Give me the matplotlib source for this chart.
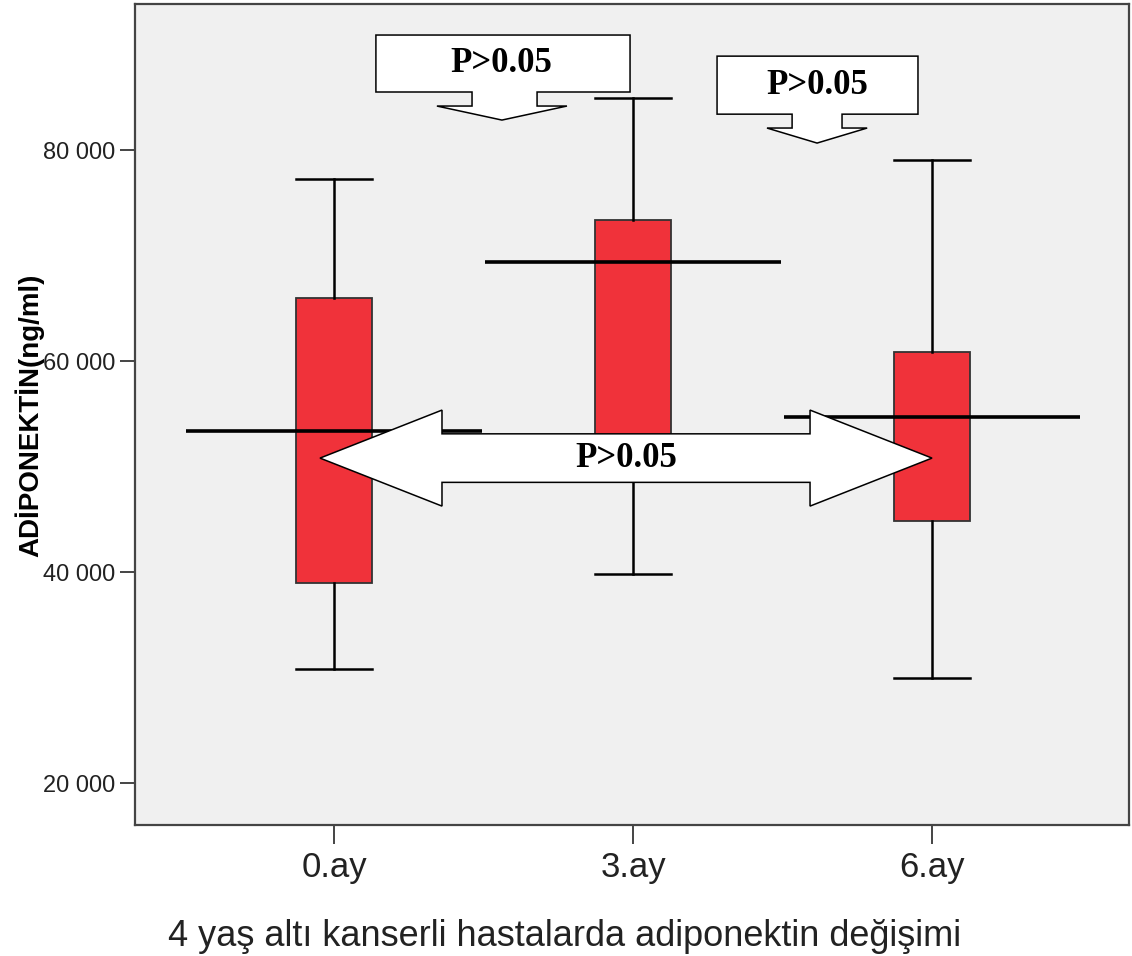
import matplotlib
matplotlib.use("Agg")
import matplotlib.pyplot as plt
from matplotlib.patches import Polygon
from matplotlib.ticker import FuncFormatter

# box plot values (ng/ml)
groups = ['0.ay', '3.ay', '6.ay']
q1 = [39000, 50500, 44800]
q3 = [66000, 73400, 60900]
med = [53400, 69400, 54700]
whislo = [30800, 39800, 30000]
whishi = [77300, 84900, 79100]

yticks = [20000, 40000, 60000, 80000]
p_label = 'P>0.05'

box_color = '#f0323a'
bg_color = '#f0f0f0'
frame_color = '#444444'


def double_arrow(x0, x1, yc, shaft_h, head_h, head_len):
    # left/right pointing block arrow in data coords
    return [(x0, yc), (x0 + head_len, yc + head_h), (x0 + head_len, yc + shaft_h),
            (x1 - head_len, yc + shaft_h), (x1 - head_len, yc + head_h), (x1, yc),
            (x1 - head_len, yc - head_h), (x1 - head_len, yc - shaft_h),
            (x0 + head_len, yc - shaft_h), (x0 + head_len, yc - head_h)]


def down_callout(xl, xr, ytop, ybot, sl, sr, hl, hr, ybase, ytip):
    # rectangle with a down arrow hanging from its bottom edge
    xc = (hl + hr) / 2
    return [(xl, ytop), (xr, ytop), (xr, ybot), (sr, ybot), (sr, ybase), (hr, ybase),
            (xc, ytip), (hl, ybase), (sl, ybase), (sl, ybot), (xl, ybot)]


fig = plt.figure(figsize=(11.32, 9.56), dpi=100)
ax = fig.add_axes([0.1193, 0.1370, 0.8781, 0.8588])
ax.set_facecolor(bg_color)

pos = list(range(len(groups)))
stats = []
for i in pos:
    stats.append({'med': med[i], 'q1': q1[i], 'q3': q3[i],
                  'whislo': whislo[i], 'whishi': whishi[i], 'fliers': []})

ax.bxp(stats, positions=pos, widths=0.257, capwidths=0.257, patch_artist=True,
       showfliers=False,
       boxprops=dict(facecolor=box_color, edgecolor='#333333', linewidth=1.3),
       whiskerprops=dict(color='black', linewidth=1.8),
       capprops=dict(color='black', linewidth=1.8),
       medianprops=dict(linewidth=0))

# wide median lines across each category
ax.hlines(med, [p - 0.495 for p in pos], [p + 0.495 for p in pos],
          colors='black', linewidth=2.6, zorder=3)

# annotation arrows
ptext = dict(ha='center', va='center', fontsize=25, fontweight='bold',
             family='Liberation Serif', zorder=6)

arr = Polygon(double_arrow(-0.047, 2.0, 50800, 2300, 4550, 0.408),
              closed=True, facecolor='white', edgecolor='black', linewidth=1.1, zorder=5)
ax.add_patch(arr)
ax.text(0.977, 50800, p_label, **ptext)

c1 = Polygon(down_callout(0.140, 0.990, 90900, 85500, 0.4615, 0.679,
                          0.344, 0.779, 84170, 82840),
             closed=True, facecolor='white', edgecolor='black', linewidth=1.1, zorder=5)
ax.add_patch(c1)
ax.text(0.56, 88200, p_label, **ptext)

c2 = Polygon(down_callout(1.281, 1.953, 88900, 83400, 1.532, 1.699,
                          1.448, 1.783, 82085, 80660),
             closed=True, facecolor='white', edgecolor='black', linewidth=1.1, zorder=5)
ax.add_patch(c2)
ax.text(1.615, 86150, p_label, **ptext)

ax.set_xlim(-0.6656, 2.659)
ax.set_ylim(16020, 93840)
ax.set_xticks(pos)
ax.set_xticklabels(groups)
ax.set_yticks(yticks)
ax.yaxis.set_major_formatter(FuncFormatter(lambda v, p: f'{int(v):,}'.replace(',', ' ')))

for s in ax.spines.values():
    s.set_color(frame_color)
    s.set_linewidth(1.6)

ax.tick_params(axis='y', length=11, width=1.4, color=frame_color, labelsize=17,
               labelcolor='#222222', pad=3)
ax.tick_params(axis='x', length=14, width=1.4, color=frame_color, labelsize=25,
               labelcolor='#222222', pad=5)
for lab in ax.get_xticklabels() + ax.get_yticklabels():
    lab.set_family('Liberation Sans')

fig.text(565 / 1132, 1 - 937 / 956, '4 yaş altı kanserli hastalarda adiponektin değişimi',
         ha='center', va='center', fontsize=26, family='Liberation Sans', color='#222222')
fig.text(30 / 1132, 1 - 415 / 956, 'ADİPONEKTİN(ng/ml)', rotation=90,
         ha='center', va='center', fontsize=20, fontweight='bold',
         family='Liberation Sans')

fig.savefig('out.png', dpi=100, facecolor='white')
